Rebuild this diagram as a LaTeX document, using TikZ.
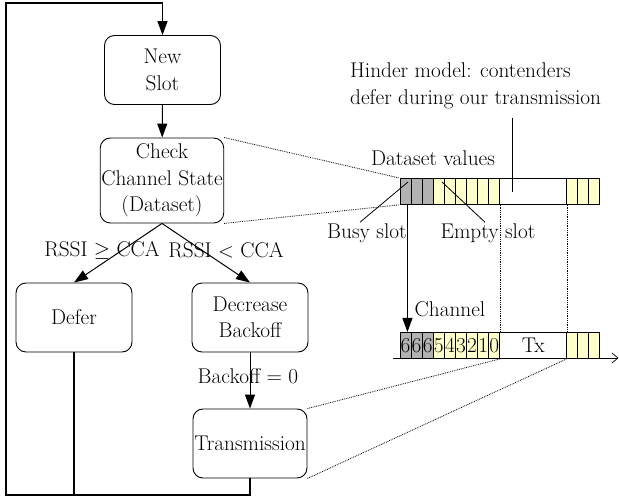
\documentclass[tikz,border=0pt]{standalone}
\usetikzlibrary{arrows.meta,calc}
\definecolor{slotgray}{RGB}{178,178,178}
\definecolor{slotyel}{RGB}{255,255,204}
\begin{document}
\begin{tikzpicture}[x=1pt,y=-1pt,
  font=\fontsize{21.3}{26.5}\selectfont,
  box/.style={draw, rounded corners=10pt, align=center, minimum width=116pt, minimum height=69pt, inner sep=1pt, line width=0.9pt},
  flow/.style={-{Triangle[length=14pt,width=10pt]}, line width=1pt},
  loopline/.style={line width=1.3pt},
  cell/.style={draw, minimum width=11.11pt, minimum height=26pt, inner sep=0pt, anchor=north west, line width=0.8pt},
  guide/.style={densely dotted, line width=0.8pt},
  pointer/.style={line width=0.8pt},
  lbl/.style={inner sep=1pt}]
\useasboundingbox (0,0) rectangle (619,497);

% flow boxes
\node[box] (new) at (162.5,70) {New\\Slot};
\node[box, minimum width=122pt, minimum height=85pt] (check) at (162,180.5) {Check\\Channel State\\(Dataset)};
\node[box] (defer) at (74,317.5) {Defer};
\node[box] (dec) at (250,317.5) {Decrease\\Backoff};
\node[box, minimum width=114pt] (tx) at (250,443.5) {Transmission};

% connectors
\draw[flow] (new) -- (check);
\draw[flow] (check.south) -- (defer.north);
\draw[flow] (check.south) -- (dec.north);
\draw[flow] (dec) -- (tx);

\node[lbl] (l1) at (102,250) {RSSI $\geq$ CCA};
\node[lbl] (l2) at (226,250) {RSSI $<$ CCA};
\node[lbl] (l3) at (248,376) {Backoff = 0};

% loop back
\coordinate (bl) at (6,495);
\coordinate (tl) at (6,3);
\draw[flow, line width=1.3pt] (tx.south) |- (bl) |- (new.north |- tl) -- (new.north);
\draw[loopline] (defer.south) -- (defer.south |- bl);

% dataset bar
\foreach \i in {1,2,3}
  \node[cell, fill=slotgray] (d\i) at ({399.5+(\i-1)*11.11},178) {};
\foreach \i in {4,...,9}
  \node[cell, fill=slotyel] (d\i) at ({399.5+(\i-1)*11.11},178) {};
\node[cell, minimum width=66.67pt] (dtx) at ({399.5+9*11.11},178) {};
\foreach \i in {16,17,18}
  \node[cell, fill=slotyel] (d\i) at ({399.5+(\i-1)*11.11},178) {};

% channel bar
\foreach \i/\t in {1/6,2/6,3/6}
  \node[cell, fill=slotgray] (c\i) at ({399.5+(\i-1)*11.11},332) {\t};
\foreach \i/\t in {4/5,5/4,6/3,7/2,8/1,9/0}
  \node[cell, fill=slotyel] (c\i) at ({399.5+(\i-1)*11.11},332) {\t};
\node[cell, minimum width=66.67pt] (ctx) at ({399.5+9*11.11},332) {Tx};
\foreach \i in {16,17,18}
  \node[cell, fill=slotyel] (c\i) at ({399.5+(\i-1)*11.11},332) {};

% time axis
\coordinate (ax0) at (393,358);
\coordinate (ax1) at (618.5,358);
\draw[-{Straight Barb[length=6pt,width=10pt]}, line width=0.7pt] (ax0) -- (ax1);

% labels on the right
\node[lbl] (dv) at (433,158) {Dataset values};
\node[lbl] (chl) at (450,309.5) {Channel};
\node[lbl, align=left, anchor=west, inner sep=0pt] (hinder) at (350,86) {Hinder model: contenders\\defer during our transmission};
\coordinate (h1) at (512,118);
\coordinate (h2) at (512,192);
\draw[pointer] (h1) -- (h2);

\node[lbl] (busy) at (367,233) {Busy slot};
\node[lbl] (empty) at (488,233) {Empty slot};
\coordinate (bp) at (408,182);
\coordinate (ep) at (442,182);
\draw[pointer] ([xshift=-7pt]busy.north) -- (bp);
\draw[pointer] ([xshift=-3pt]empty.north) -- (ep);

% busy slot arrow to channel
\draw[flow] ([xshift=2pt]d1.south) -- ([xshift=2pt]c1.north);

% guides
\draw[guide] (d9.south east) -- (c9.north east);
\draw[guide] (dtx.south east) -- (ctx.north east);
\draw[guide] (check.north east) -- (d1.north west);
\draw[guide] (check.south east) -- (d1.south west);
\draw[guide] (tx.north east) -- (c9.south east);
\draw[guide] (tx.south east) -- (ctx.south east);
\end{tikzpicture}
\end{document}
